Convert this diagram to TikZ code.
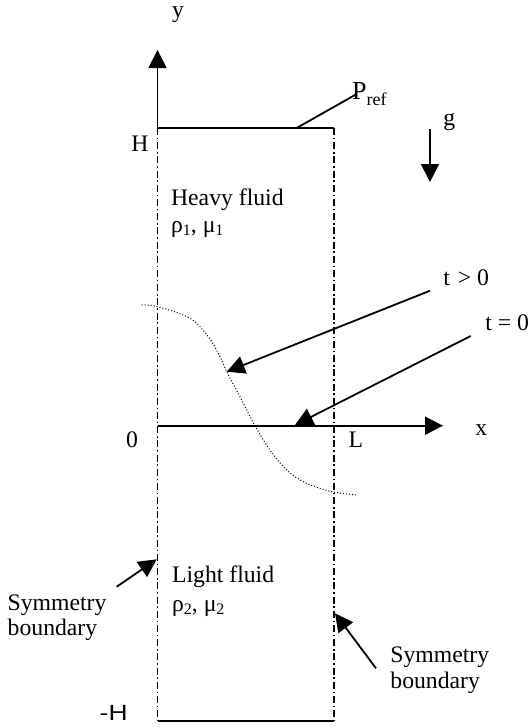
\documentclass[tikz,border=0pt]{standalone}
\usepackage{fontspec}
\setmainfont{Liberation Serif}
\newfontfamily\arialfont{Liberation Sans}
\usetikzlibrary{arrows.meta}
\newcommand\sbs[1]{\raisebox{-0.3ex}{\fontsize{8}{8}\selectfont #1}}
\begin{document}
\begin{tikzpicture}[x=0.5pt,y=-0.5pt,
  ln/.style={line width=0.9pt},
  arr/.style={line width=0.9pt,-{Triangle[length=9pt,width=9pt]}},
  dashdot/.style={line width=0.9pt,dash pattern=on 3.5pt off 1.4pt on 0.8pt off 1.4pt},
  dotline/.style={line width=0.5pt,dash pattern=on 0.5pt off 1pt},
  lbl/.style={inner sep=0pt,font=\fontsize{11.85}{14}\selectfont}]
\useasboundingbox (0,0) rectangle (527,728);
% frame
\coordinate (O) at (157.5,425.7);
\coordinate (TL) at (157.5,128);
\coordinate (TR) at (334,128);
\coordinate (BL) at (157.5,721);
\coordinate (BR) at (334,721);
\coordinate (ytip) at (157.5,50);
\coordinate (xtip) at (443,425.7);
\draw[ln] (TL) -- (TR);
\draw[ln] (BL) -- (BR);
\draw[dashdot] (TL) -- (BL);
\draw[dashdot] (TR) -- (BR);
\draw[arr] (TL) -- (ytip);
\draw[arr] (O) -- (xtip);
% axis labels
\node[lbl,anchor=base west] (ylab) at (171.7,17.4) {y};
\node[lbl,anchor=base west] (xlab) at (475,435) {x};
\node[lbl,anchor=base east] (zero) at (138.3,447.5) {0};
\node[lbl,anchor=base west] (Llab) at (348.3,447.7) {L};
\node[lbl,anchor=base west] (Hlab) at (131,151) {H};
\node[inner sep=0pt,anchor=base east,font=\arialfont\fontsize{11}{13}\selectfont] (mHlab) at (128,720) {\scalebox{1.2}[1]{-H}};
% P_ref
\coordinate (pl) at (296.7,128);
\node[inner sep=0pt,anchor=base west,font=\fontsize{13}{15}\selectfont] (pref) at (351.7,99.3) {P\raisebox{-3pt}{\fontsize{9}{9}\selectfont ref}};
\coordinate (prefend) at (356.7,94);
\draw[ln] (pl) -- (prefend);
% gravity
\node[lbl,anchor=base west] (glab) at (443,125) {g};
\coordinate (gs) at (430,129);
\coordinate (ge) at (430,182);
\draw[arr] (gs) -- (ge);
% fluids
\node[lbl,anchor=base west] (heavy) at (170.7,205) {Heavy fluid};
\node[lbl,anchor=base west] (rho1) at (170.7,232.5) {ρ\sbs{1}, μ\sbs{1}};
\node[lbl,anchor=base west] (light) at (171.7,582.7) {Light fluid};
\node[lbl,anchor=base west] (rho2) at (171.7,611.7) {ρ\sbs{2}, μ\sbs{2}};
% interface
\draw[dotline] plot[smooth,tension=0.6] coordinates {(141.7,305) (157.5,306.7) (190,318.3) (208.3,336.7) (220,356.7) (226.7,371.7) (240,396.7) (255,425.7) (270,450) (286.7,470) (303.3,481.7) (320,488.3) (335,492.3) (356.7,495)};
% time labels
\node[lbl,anchor=base west] (tpos) at (443,285.7) {t\hspace{1pt} > 0};
\node[lbl,anchor=base west] (tzero) at (485,330) {t = 0};
\coordinate (t1s) at (430,290.7);
\coordinate (t1e) at (226.7,371.7);
\coordinate (t0s) at (470.7,336);
\coordinate (t0e) at (295,425);
\draw[arr] (t1s) -- (t1e);
\draw[arr] (t0s) -- (t0e);
% symmetry labels
\node[lbl,anchor=base west] (symL1) at (7.3,610) {Symmetry};
\node[lbl,anchor=base west] (symL2) at (7.3,635) {boundary};
\coordinate (sLs) at (116.7,586.7);
\coordinate (sLe) at (156.7,559.3);
\draw[arr] (sLs) -- (sLe);
\node[lbl,anchor=base west] (symR1) at (390,662) {Symmetry};
\node[lbl,anchor=base west] (symR2) at (390,688.5) {boundary};
\coordinate (sRs) at (376,668.3);
\coordinate (sRe) at (335,613.3);
\draw[arr] (sRs) -- (sRe);
\end{tikzpicture}
\end{document}
